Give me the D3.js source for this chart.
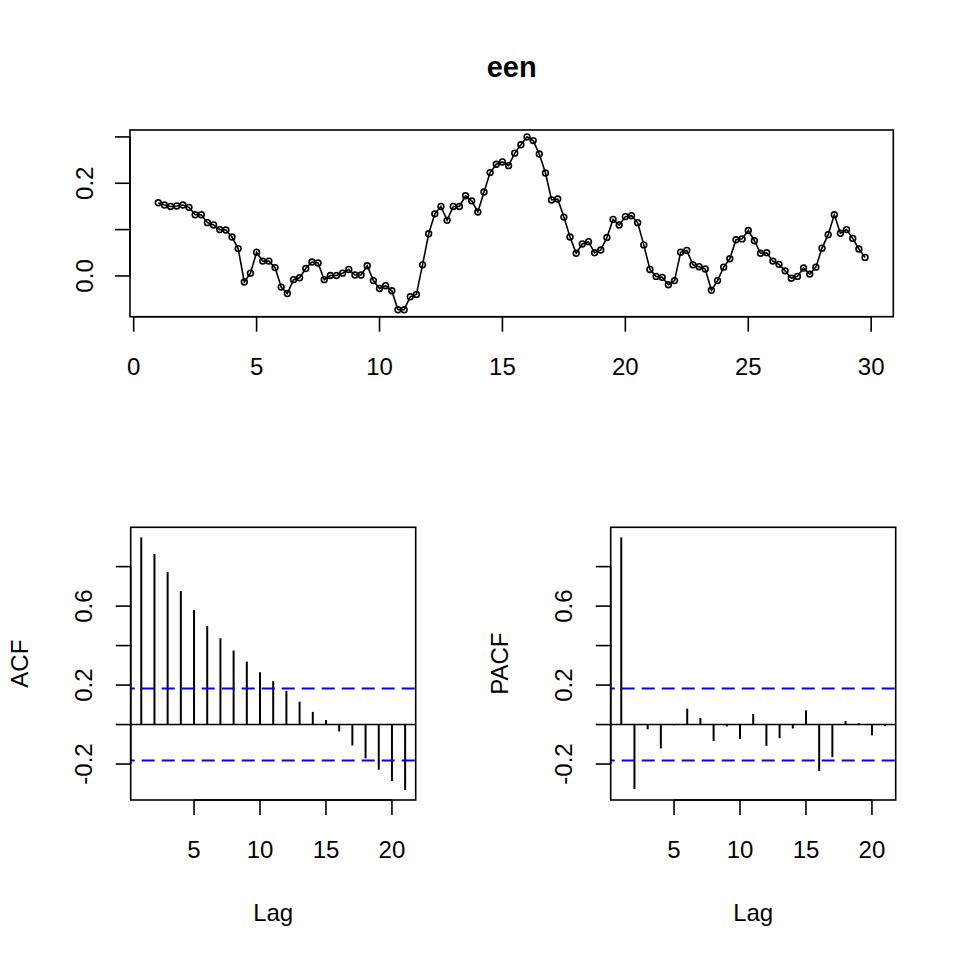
<!DOCTYPE html>
<html>
<head>
<meta charset="utf-8">
<script src="https://cdn.jsdelivr.net/npm/d3@7"></script>
<style>
  html, body { margin: 0; padding: 0; background: #fff; }
  svg { display: block; }
  text { font-family: "Liberation Sans", Arial, Helvetica, sans-serif; fill: #000; }
</style>
</head>
<body>
<svg id="chart" width="960" height="960"></svg>
<script>
// ---- data ----
const title = "een";
const seriesStart = 1;
const seriesFrequency = 4;
const een = [
  0.158, 0.153, 0.150, 0.151, 0.153, 0.148, 0.132, 0.132, 0.115, 0.110,
  0.100, 0.099, 0.084, 0.059, -0.013, 0.006, 0.051, 0.032, 0.032, 0.018,
  -0.024, -0.038, -0.008, -0.004, 0.016, 0.030, 0.028, -0.008, 0.001, 0.001,
  0.006, 0.014, 0.002, 0.002, 0.022, -0.010, -0.027, -0.021, -0.032, -0.073,
  -0.073, -0.045, -0.040, 0.024, 0.091, 0.134, 0.150, 0.120, 0.150, 0.150,
  0.173, 0.162, 0.138, 0.181, 0.223, 0.241, 0.246, 0.238, 0.265, 0.283,
  0.300, 0.292, 0.263, 0.222, 0.164, 0.166, 0.127, 0.084, 0.049, 0.069,
  0.074, 0.050, 0.056, 0.083, 0.122, 0.110, 0.128, 0.130, 0.115, 0.067,
  0.014, -0.001, -0.003, -0.019, -0.010, 0.051, 0.055, 0.024, 0.020, 0.015,
  -0.031, -0.010, 0.019, 0.037, 0.078, 0.080, 0.098, 0.076, 0.049, 0.050,
  0.032, 0.025, 0.011, -0.005, -0.001, 0.017, 0.004, 0.019, 0.060, 0.089,
  0.132, 0.092, 0.100, 0.081, 0.058, 0.040
];
const lags = [1,2,3,4,5,6,7,8,9,10,11,12,13,14,15,16,17,18,19,20,21];
const acfValues = [0.948, 0.864, 0.772, 0.676, 0.580, 0.499, 0.437, 0.375, 0.319, 0.265,
  0.220, 0.171, 0.116, 0.064, 0.023, -0.035, -0.106, -0.171, -0.229, -0.286, -0.331];
const pacfValues = [0.948, -0.326, -0.024, -0.121, -0.004, 0.081, 0.033, -0.083, -0.010, -0.074,
  0.053, -0.108, -0.069, -0.020, 0.072, -0.235, -0.165, 0.018, 0.007, -0.055, -0.008];
const ciLevel = 0.182;
const topXTicks = [0, 5, 10, 15, 20, 25, 30];
const topYTicks = [0.0, 0.1, 0.2, 0.3];
const topYLabels = [0.0, 0.2];
const lagTicks = [5, 10, 15, 20];
const corrYTicks = [-0.2, 0.0, 0.2, 0.4, 0.6, 0.8];
const corrYLabels = [-0.2, 0.2, 0.6];

// ---- helpers ----
const svg = d3.select("#chart");
svg.append("rect").attr("width", 960).attr("height", 960).attr("fill", "#fff");
const FONT = 24, TICK = 15, LW = 1.6;
function pad(ext) { const d = (ext[1] - ext[0]) * 0.04; return [ext[0] - d, ext[1] + d]; }
const fmt = d3.formatLocale({decimal: ".", thousands: ",", grouping: [3], currency: ["$", ""], minus: "-"}).format(".1f");

function drawFrame(g, x0, x1, y0, y1) {
  g.append("rect").attr("x", x0).attr("y", y0).attr("width", x1 - x0).attr("height", y1 - y0)
    .attr("fill", "none").attr("stroke", "#000").attr("stroke-width", LW);
}
function drawXAxis(g, x, ticks, yBase, labelBaseline) {
  const a = g.append("g");
  a.append("line").attr("x1", x(ticks[0])).attr("x2", x(ticks[ticks.length - 1]))
    .attr("y1", yBase).attr("y2", yBase).attr("stroke", "#000").attr("stroke-width", LW);
  ticks.forEach(t => {
    a.append("line").attr("x1", x(t)).attr("x2", x(t)).attr("y1", yBase).attr("y2", yBase + TICK)
      .attr("stroke", "#000").attr("stroke-width", LW);
    a.append("text").attr("x", x(t)).attr("y", labelBaseline).attr("text-anchor", "middle")
      .attr("font-size", FONT).text(t);
  });
}
function drawYAxis(g, y, ticks, labels, xBase, labelBaseline) {
  const a = g.append("g");
  a.append("line").attr("x1", xBase).attr("x2", xBase)
    .attr("y1", y(ticks[0])).attr("y2", y(ticks[ticks.length - 1])).attr("stroke", "#000").attr("stroke-width", LW);
  ticks.forEach(t => {
    a.append("line").attr("x1", xBase - TICK).attr("x2", xBase).attr("y1", y(t)).attr("y2", y(t))
      .attr("stroke", "#000").attr("stroke-width", LW);
  });
  labels.forEach(t => {
    a.append("text").attr("transform", `translate(${labelBaseline},${y(t)}) rotate(-90)`)
      .attr("text-anchor", "middle").attr("font-size", FONT).text(fmt(t));
  });
}

// ---- top: time series ----
{
  const L = 130, R = 893.3, T = 130, B = 316.7;
  const times = een.map((v, i) => seriesStart + i / seriesFrequency);
  const x = d3.scaleLinear().domain(pad(d3.extent(times))).range([L, R]);
  const y = d3.scaleLinear().domain(pad(d3.extent(een))).range([B, T]);
  const g = svg.append("g");
  const pts = een.map((v, i) => [times[i], v]);
  g.append("path").attr("d", d3.line().x(d => x(d[0])).y(d => y(d[1]))(pts))
    .attr("fill", "none").attr("stroke", "#000").attr("stroke-width", 1.6);
  g.selectAll("circle").data(pts).join("circle")
    .attr("cx", d => x(d[0])).attr("cy", d => y(d[1])).attr("r", 2.9)
    .attr("fill", "none").attr("stroke", "#000").attr("stroke-width", 1.6);
  drawFrame(g, L, R, T, B);
  drawXAxis(g, x, topXTicks, B, 375);
  drawYAxis(g, y, topYTicks, topYLabels, L, 93);
  svg.append("text").attr("x", (L + R) / 2).attr("y", 77).attr("text-anchor", "middle")
    .attr("font-size", 29).attr("font-weight", "bold").text(title);
}

// ---- bottom: ACF and PACF ----
const corrExtent = pad(d3.extent([...acfValues, ...pacfValues, -ciLevel, ciLevel]));
function corrPanel(values, label, L, R) {
  const T = 527.3, B = 800;
  const x = d3.scaleLinear().domain(pad(d3.extent(lags))).range([L, R]);
  const y = d3.scaleLinear().domain(corrExtent).range([B, T]);
  const g = svg.append("g");
  g.append("line").attr("x1", L).attr("x2", R).attr("y1", y(0)).attr("y2", y(0))
    .attr("stroke", "#000").attr("stroke-width", LW);
  g.selectAll("line.bar").data(lags).join("line").attr("class", "bar")
    .attr("x1", d => x(d)).attr("x2", d => x(d))
    .attr("y1", y(0)).attr("y2", (d, i) => y(values[i]))
    .attr("stroke", "#000").attr("stroke-width", 2);
  [ciLevel, -ciLevel].forEach(c => {
    g.append("line").attr("x1", L).attr("x2", R).attr("y1", y(c)).attr("y2", y(c))
      .attr("stroke", "#0000FF").attr("stroke-width", 2).attr("stroke-dasharray", "13,7")
      .attr("stroke-dashoffset", 9);
  });
  drawFrame(g, L, R, T, B);
  drawXAxis(g, x, lagTicks, B, 858);
  drawYAxis(g, y, corrYTicks, corrYLabels, L, L - 38.5);
  g.append("text").attr("x", (L + R) / 2).attr("y", 921).attr("text-anchor", "middle")
    .attr("font-size", FONT).text("Lag");
  g.append("text").attr("transform", `translate(${L - 102.5},${(T + B) / 2}) rotate(-90)`)
    .attr("text-anchor", "middle").attr("font-size", FONT).text(label);
}
corrPanel(acfValues, "ACF", 130.7, 415.7);
corrPanel(pacfValues, "PACF", 610.7, 895.7);
</script>
</body>
</html>
